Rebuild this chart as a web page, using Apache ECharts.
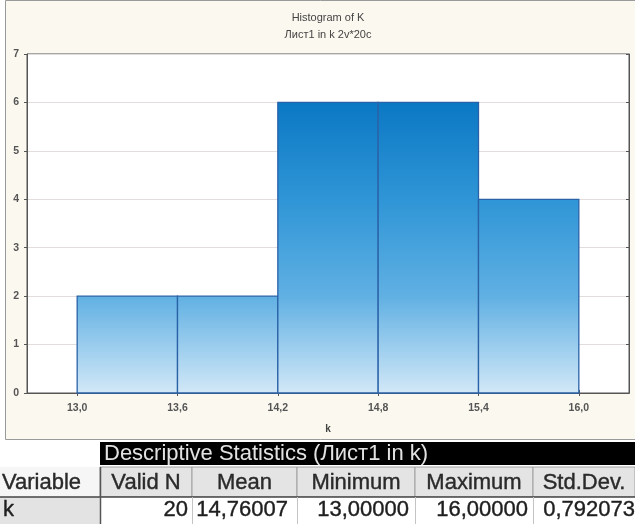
<!DOCTYPE html>
<html><head><meta charset="utf-8">
<script src="https://cdn.jsdelivr.net/npm/echarts@6/dist/echarts.min.js"></script>
<style>html,body{margin:0;padding:0;background:#fff}#c{width:635px;height:524px}</style>
</head><body><div id="c"></div>
<script>
const binStarts = [13.0, 13.6, 14.2, 14.8, 15.4];
const binEnds   = [13.6, 14.2, 14.8, 15.4, 16.0];
const counts    = [2, 2, 6, 6, 4];
const xTicks    = [13.0, 13.6, 14.2, 14.8, 15.4, 16.0];
const titleLines = ['Histogram of K', 'Лист1 in k 2v*20c'];
const tableTitle = 'Descriptive Statistics (Лист1 in k)';
const tableHeaders = ['Variable', 'Valid N', 'Mean', 'Minimum', 'Maximum', 'Std.Dev.'];
const tableRow = ['k', '20', '14,76007', '13,00000', '16,00000', '0,792073'];

const chart = echarts.init(document.getElementById('c'));
const data = binStarts.map((s, i) => [s, binEnds[i], counts[i]]);
const fmt = v => v.toFixed(1).replace('.', ',');

const FF = '"Liberation Sans", Arial, sans-serif';
const colX = [0, 100, 192, 297, 415, 533, 635];
const padR = [0, 4, 9, 6, 5, 0];
const g = [];
g.push({type:'rect', z:-10, shape:{x:5.5, y:0.5, width:640, height:439}, style:{fill:'#fbf8ef', stroke:'#9a9a9a', lineWidth:1}});
g.push({type:'text', x:328, y:12, style:{text:titleLines[0], fill:'#444', font:'11px ' + FF, align:'center', verticalAlign:'top'}});
g.push({type:'text', x:328, y:29, style:{text:titleLines[1], fill:'#444', font:'11px ' + FF, align:'center', verticalAlign:'top'}});
// black header bar
g.push({type:'rect', shape:{x:100, y:442, width:535, height:23}, style:{fill:'#000'}});
g.push({type:'text', x:104, y:454, style:{text:tableTitle, fill:'#e2e2e2', font:'22px ' + FF, verticalAlign:'middle'}});
// header row
for (let i = 0; i < tableHeaders.length; i++) {
  const x0 = colX[i], x1 = colX[i+1];
  g.push({type:'rect', shape:{x:x0, y:467, width:x1-x0, height:30}, style:{fill: i===0 ? '#f6f6f6' : '#e4e4e4', stroke: i===0 ? null : '#a0a0a0', lineWidth:1}});
  g.push({type:'text', x: i===0 ? 2 : (x0+x1)/2, y:483, style:{text:tableHeaders[i], fill:'#2a2a2a', stroke:'#2a2a2a', lineWidth:0.4, font:'22px ' + FF, align: i===0 ? 'left' : 'center', verticalAlign:'middle'}});
}
// data row
for (let i = 0; i < tableRow.length; i++) {
  const x0 = colX[i], x1 = colX[i+1];
  g.push({type:'rect', shape:{x:x0, y:497, width:x1-x0, height:27}, style:{fill: i===0 ? '#e3e3e3' : '#fff', stroke:null}});
  g.push({type:'text', x: i===0 ? 3 : x1-padR[i], y:510, style:{text:tableRow[i], fill:'#1e1e1e', stroke:'#1e1e1e', lineWidth:0.4, font:'22px ' + FF, align: i===0 ? 'left' : 'right', verticalAlign:'middle'}});
}
g.push({type:'line', shape:{x1:0, y1:497, x2:635, y2:497}, style:{stroke:'#444', lineWidth:1.5}});
for (let i = 1; i < colX.length-1; i++) {
  g.push({type:'line', shape:{x1:colX[i]+0.5, y1:497, x2:colX[i]+0.5, y2:524}, style:{stroke:'#c4c4c4', lineWidth:1}});
}
g.push({type:'line', shape:{x1:100.5, y1:467, x2:100.5, y2:524}, style:{stroke:'#555', lineWidth:1.5}});

chart.setOption({
  animation:false,
  backgroundColor:'transparent',
  graphic: g,
  grid:{left:27, right:6, top:54, bottom:131, show:true, backgroundColor:'#fff', borderColor:'#555', borderWidth:1},
  xAxis:[{
    type:'value', min:12.7, max:16.3,
    name:'k', nameLocation:'middle', nameGap:31,
    nameTextStyle:{color:'#444', fontSize:10, fontWeight:'bold', fontFamily:FF},
    axisLine:{show:true, lineStyle:{color:'#555'}},
    axisTick:{show:true, customValues:xTicks, inside:true, length:3, lineStyle:{color:'#555'}},
    axisLabel:{customValues:xTicks, formatter:fmt, color:'#555', fontSize:10.5, fontWeight:'bold', fontFamily:FF, margin:10},
    splitLine:{show:false}
  },{
    type:'value', min:12.7, max:16.3, position:'top',
    axisLine:{show:true, lineStyle:{color:'#555'}},
    axisTick:{show:true, customValues:xTicks, inside:true, length:3, lineStyle:{color:'#555'}},
    axisLabel:{show:false}, splitLine:{show:false}
  }],
  yAxis:[{
    type:'value', min:0, max:7, interval:1,
    axisLine:{show:true, lineStyle:{color:'#555'}},
    axisTick:{show:true, length:3, lineStyle:{color:'#555'}},
    axisLabel:{color:'#555', fontSize:10.5, fontWeight:'bold', fontFamily:FF, margin:8},
    splitLine:{show:true, lineStyle:{color:'#e2dcdc', width:1}}
  },{
    type:'value', min:0, max:7, interval:1, position:'right',
    axisLine:{show:true, lineStyle:{color:'#555'}},
    axisTick:{show:true, inside:true, length:3, lineStyle:{color:'#555'}},
    axisLabel:{show:false}, splitLine:{show:false}
  }],
  series:[{
    type:'custom',
    data: data,
    encode:{x:[0,1], y:2},
    renderItem:function(params, api){
      const s = api.value(0), e = api.value(1), c = api.value(2);
      const p0 = api.coord([s, c]);
      const p1 = api.coord([e, 0]);
      const top = api.coord([s, 7])[1];
      const fill = new echarts.graphic.LinearGradient(0, top, 0, p1[1], [
        {offset:0, color:'#0a6fbb'},
        {offset:1/7, color:'#0b78c4'},
        {offset:3/7, color:'#2f95d6'},
        {offset:5/7, color:'#60b0e3'},
        {offset:1, color:'#d2e8f7'}
      ], true);
      return {type:'rect', shape:{x:p0[0], y:p0[1], width:p1[0]-p0[0], height:p1[1]-p0[1]},
        style:{fill:fill, stroke:'#2a62a8', lineWidth:1.3}};
    }
  }]
});
</script></body></html>
